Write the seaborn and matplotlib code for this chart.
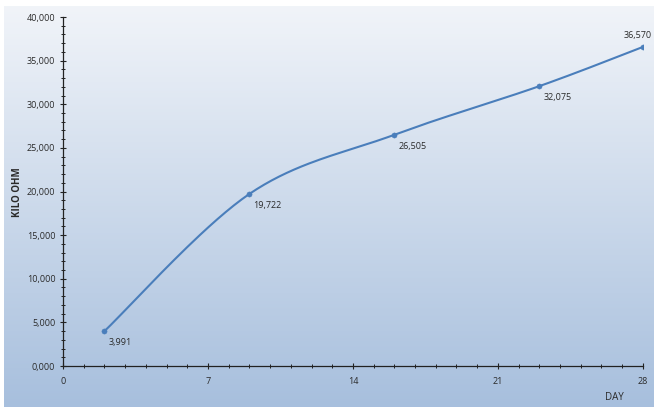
import numpy as np
import matplotlib
matplotlib.use("Agg")
import matplotlib.pyplot as plt
import seaborn as sns
from matplotlib.ticker import MultipleLocator

# data
days = [2, 9, 16, 23, 28]
kilo_ohm = [3991, 19722, 26505, 32075, 36570]
point_labels = ["3,991", "19,722", "26,505", "32,075", "36,570"]
x_ticks = [0, 7, 14, 21, 28]
y_ticks = [0, 5000, 10000, 15000, 20000, 25000, 30000, 35000, 40000]
y_tick_labels = ["0,000", "5,000", "10,000", "15,000", "20,000",
                 "25,000", "30,000", "35,000", "40,000"]

sns.set_theme(style="white")
plt.rcParams["font.family"] = ["Open Sans", "DejaVu Sans"]

LINE = "#4a7ebb"
TXT = "#2a2a2a"


def smooth_curve(xs, ys, steps=40):
    # excel style smoothed line (cardinal bezier between the points)
    xs = np.asarray(xs, float)
    ys = np.asarray(ys, float)
    px = np.concatenate([[xs[0]], xs, [xs[-1]]])
    py = np.concatenate([[ys[0]], ys, [ys[-1]]])
    out_x, out_y = [], []
    t = np.linspace(0, 1, steps)
    for i in range(1, len(px) - 2):
        p0 = np.array([px[i], py[i]])
        p3 = np.array([px[i + 1], py[i + 1]])
        c1 = p0 + (np.array([px[i + 1], py[i + 1]]) - np.array([px[i - 1], py[i - 1]])) / 6
        c2 = p3 - (np.array([px[i + 2], py[i + 2]]) - np.array([px[i], py[i]])) / 6
        b = ((1 - t) ** 3)[:, None] * p0 + (3 * (1 - t) ** 2 * t)[:, None] * c1 \
            + (3 * (1 - t) * t ** 2)[:, None] * c2 + (t ** 3)[:, None] * p3
        out_x.extend(b[:, 0])
        out_y.extend(b[:, 1])
    return out_x, out_y


fig = plt.figure(figsize=(6.54, 4.07), dpi=100)
fig.patch.set_facecolor("white")

# gradient background
bg = fig.add_axes([0.006, 0.0, 0.994, 0.985], zorder=0)
grad = np.linspace(0, 1, 256)[:, None]
top = np.array([0.945, 0.957, 0.976])
bot = np.array([0.655, 0.749, 0.867])
img = top[None, None, :] * (1 - grad[:, :, None]) + bot[None, None, :] * grad[:, :, None]
bg.imshow(img, aspect="auto", extent=[0, 1, 0, 1])
bg.axis("off")

ax = fig.add_axes([0.0963, 0.1007, 0.8867, 0.8575], zorder=1)
ax.set_facecolor("none")

sx, sy = smooth_curve(days, kilo_ohm)
sns.lineplot(x=sx, y=sy, ax=ax, color=LINE, linewidth=1.5, sort=False, estimator=None)
sns.scatterplot(x=days, y=kilo_ohm, ax=ax, color=LINE, s=14, edgecolor=LINE, zorder=3)

for i, (d, v, lab) in enumerate(zip(days, kilo_ohm, point_labels)):
    if i == len(days) - 1:
        ax.annotate(lab, (d, v), xytext=(-4, 5), textcoords="offset points",
                    fontsize=6.5, color=TXT, ha="center", va="bottom", annotation_clip=False)
    else:
        ax.annotate(lab, (d, v), xytext=(3, -5), textcoords="offset points",
                    fontsize=6.5, color=TXT, ha="left", va="top")

ax.set_xlim(0, 28)
ax.set_ylim(0, 40000)
ax.set_xticks(x_ticks)
ax.set_xticklabels([str(x) for x in x_ticks])
ax.set_yticks(y_ticks)
ax.set_yticklabels(y_tick_labels)
ax.xaxis.set_minor_locator(MultipleLocator(1))
ax.yaxis.set_minor_locator(MultipleLocator(1000))
ax.tick_params(axis="both", which="both", direction="inout", color="#222222",
               bottom=True, left=True, labelsize=6.5, labelcolor=TXT)
ax.tick_params(which="major", length=4, width=0.8)
ax.tick_params(which="minor", length=3, width=0.7)
ax.tick_params(axis="x", pad=6)

for s in ["top", "right"]:
    ax.spines[s].set_visible(False)
for s in ["left", "bottom"]:
    ax.spines[s].set_color("#222222")
    ax.spines[s].set_linewidth(0.9)

ax.set_ylabel("")
ax.set_xlabel("")
fig.text(17 / 654, 1 - 192 / 407, "KILO OHM", fontsize=7, fontweight="bold", color=TXT,
         rotation=90, ha="center", va="center")
fig.text(614 / 654, 1 - 397 / 407, "DAY", fontsize=7, color=TXT, ha="center", va="center")

fig.savefig("out.png", dpi=100)
